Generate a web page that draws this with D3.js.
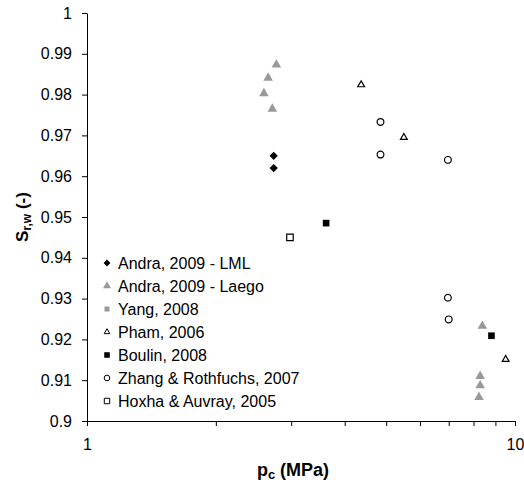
<!DOCTYPE html>
<html>
<head>
<meta charset="utf-8">
<script src="https://cdn.jsdelivr.net/npm/d3@7"></script>
<style>
  body { margin: 0; background: #fff; }
  text { font-family: "Liberation Sans", Arial, sans-serif; }
</style>
</head>
<body>
<div id="chart"></div>
<script>
// data: [p_c (MPa), S_r,w]
const andraLML = [[2.73, 0.965], [2.73, 0.962]];
const andraLaego = [[2.77, 0.9873], [2.65, 0.9841], [2.59, 0.9803], [2.71, 0.9765],
  [8.39, 0.9233], [8.29, 0.911], [8.29, 0.9087], [8.24, 0.9058]];
const yang = [];
const pham = [[4.37, 0.9824], [5.50, 0.9695], [9.51, 0.9151]];
const boulin = [[3.62, 0.9485], [8.81, 0.9209]];
const zhang = [[4.85, 0.9733], [4.85, 0.9653], [6.97, 0.964], [6.97, 0.9302], [7.0, 0.9249]];
const hoxha = [[2.98, 0.945]];

const yTicks = [0.9, 0.91, 0.92, 0.93, 0.94, 0.95, 0.96, 0.97, 0.98, 0.99, 1];
const xTicks = [1, 2, 3, 4, 5, 6, 7, 8, 9, 10];

const series = [
  { name: "Andra, 2009 - LML", data: andraLML, shape: d3.symbolSquare, rot: 45, size: 34, fill: "#000", stroke: "none" },
  { name: "Andra, 2009 - Laego", data: andraLaego, shape: d3.symbolTriangle, rot: 0, size: 40, fill: "#999", stroke: "none" },
  { name: "Yang, 2008", data: yang, shape: d3.symbolSquare, rot: 0, size: 36, fill: "#999", stroke: "none" },
  { name: "Pham, 2006", data: pham, shape: d3.symbolTriangle, rot: 0, size: 20, fill: "#fff", stroke: "#000" },
  { name: "Boulin, 2008", data: boulin, shape: d3.symbolSquare, rot: 0, size: 44, fill: "#000", stroke: "none" },
  { name: "Zhang & Rothfuchs, 2007", data: zhang, shape: d3.symbolCircle, rot: 0, size: 36, fill: "#fff", stroke: "#000" },
  { name: "Hoxha & Auvray, 2005", data: hoxha, shape: d3.symbolSquare, rot: 0, size: 42, fill: "#fff", stroke: "#000" }
];

const W = 524, H = 484;
const margin = { top: 13, right: 9, bottom: 63, left: 87 };
const width = W - margin.left - margin.right;
const height = H - margin.top - margin.bottom;

const svg = d3.select("#chart").append("svg")
  .attr("width", W)
  .attr("height", H);

const g = svg.append("g")
  .attr("transform", `translate(${margin.left},${margin.top})`);

const x = d3.scaleLog().domain([1, 10]).range([0, width]);
const y = d3.scaleLinear().domain([0.9, 1]).range([height, 0]);

// Eje Y
const yAxis = g.append("g")
  .call(d3.axisLeft(y).tickValues(yTicks).tickFormat(d => d3.format("")(+d.toFixed(2))).tickSize(5).tickSizeOuter(0));
yAxis.select(".domain").attr("stroke", "#000");
yAxis.selectAll("text").attr("font-size", 16).attr("fill", "#000").attr("dx", "-7px");

// Eje X
const xAxis = g.append("g")
  .attr("transform", `translate(0,${height})`)
  .call(d3.axisBottom(x).tickValues(xTicks).tickFormat(d => (d === 1 || d === 10) ? d : "").tickSize(5).tickSizeOuter(0));
xAxis.select(".domain").attr("stroke", "#000");
xAxis.selectAll("text").attr("font-size", 16).attr("fill", "#000").attr("dy", "1.3em");

// titulos
const xl = svg.append("text")
  .attr("x", margin.left + width / 2 - 8)
  .attr("y", 476)
  .attr("text-anchor", "middle")
  .attr("font-size", 18)
  .attr("font-weight", "bold");
xl.append("tspan").text("p");
xl.append("tspan").attr("font-size", 13).attr("dy", 3).text("c");
xl.append("tspan").attr("dy", -3).text(" (MPa)");

const yl = svg.append("text")
  .attr("transform", `translate(28,${margin.top + height / 2}) rotate(-90)`)
  .attr("text-anchor", "middle")
  .attr("font-size", 17)
  .attr("font-weight", "bold");
yl.append("tspan").text("S");
yl.append("tspan").attr("font-size", 12).attr("dy", 3).text("r,w");
yl.append("tspan").attr("dy", -3).text(" (-)");

// puntos
series.forEach(s => {
  g.append("g").selectAll("path")
    .data(s.data)
    .enter()
    .append("path")
    .attr("transform", d => `translate(${x(d[0])},${y(d[1])}) rotate(${s.rot})`)
    .attr("d", d3.symbol().type(s.shape).size(s.size))
    .attr("fill", s.fill)
    .attr("stroke", s.stroke)
    .attr("stroke-width", 1.2);
});

// leyenda
const legend = svg.append("g").attr("transform", "translate(107,263)");
series.forEach((s, i) => {
  const row = legend.append("g").attr("transform", `translate(0,${i * 23})`);
  row.append("path")
    .attr("transform", `rotate(${s.rot})`)
    .attr("d", d3.symbol().type(s.shape).size(s.size * 0.7))
    .attr("fill", s.fill)
    .attr("stroke", s.stroke)
    .attr("stroke-width", 1);
  row.append("text")
    .attr("x", 11)
    .attr("y", 6)
    .attr("font-size", 16)
    .text(s.name);
});
</script>
</body>
</html>
